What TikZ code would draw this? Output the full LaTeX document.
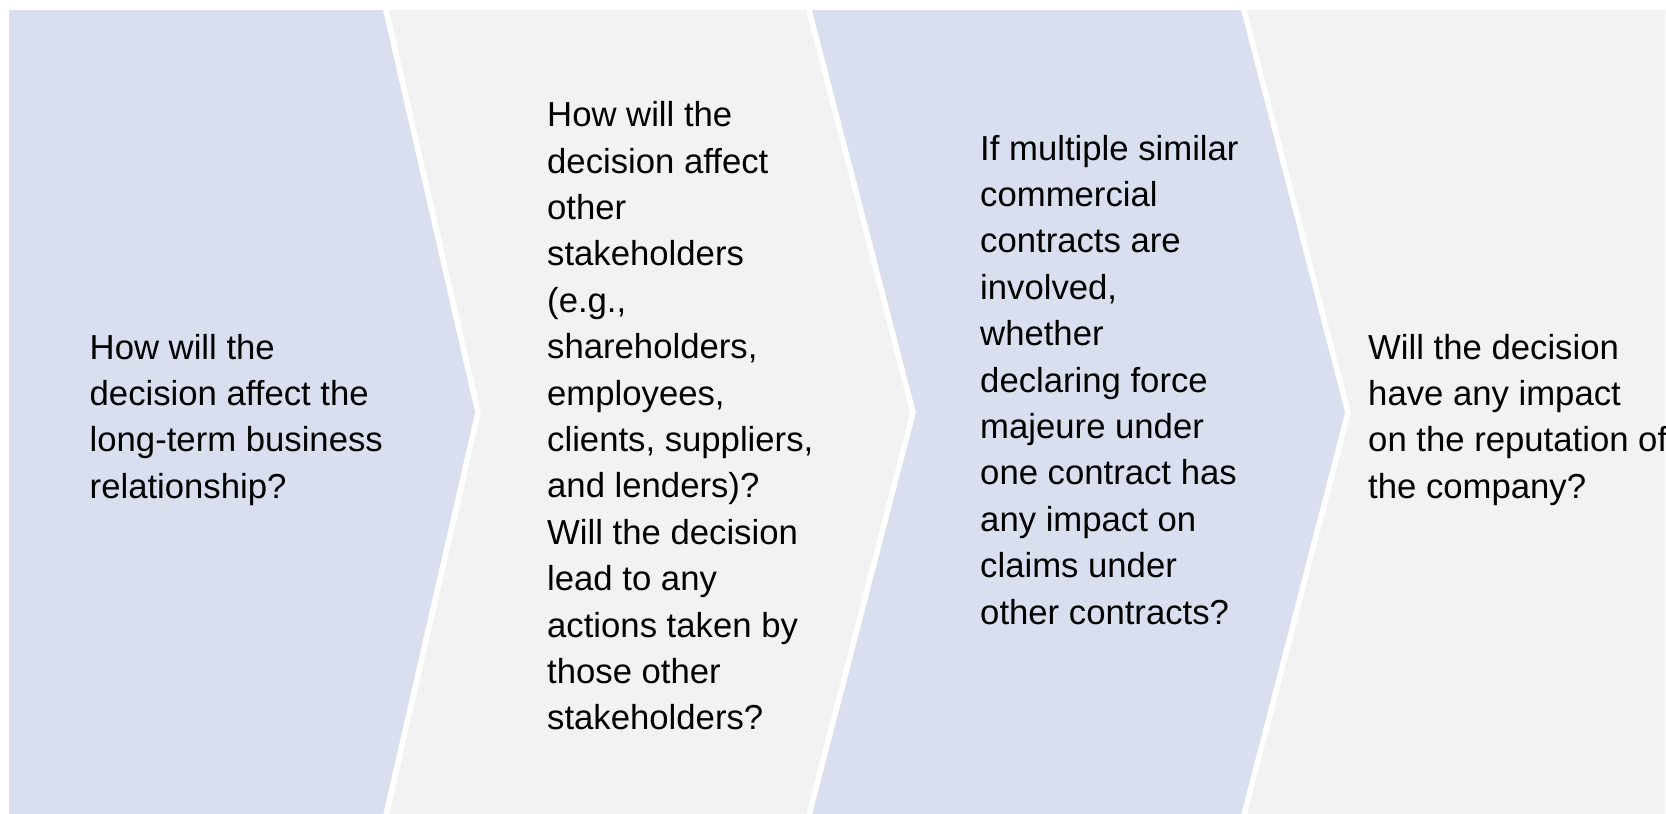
\documentclass[tikz,border=0pt]{standalone}
\usepackage{fontspec}
\setmainfont{Liberation Sans}
\definecolor{chevblue}{HTML}{D9DFEF}
\definecolor{chevgrey}{HTML}{F2F2F2}
\begin{document}
\begin{tikzpicture}[x=1pt,y=-1pt,
  panel/.style={fill=#1, draw=none},
  question/.style={anchor=north west, inner sep=0pt, align=left,
    font=\fontsize{34.7}{46.4}\selectfont}]
\useasboundingbox (0,0) rectangle (1666,814);
\fill[white] (0,0) rectangle (1666,814);
% four chevron panels, separated by thin white gaps
\path[panel=chevblue] (9,10) -- (383,10) -- (475,412.5) -- (383,815) -- (9,815) -- cycle;
\path[panel=chevgrey] (389,10) -- (806,10) -- (910,412.5) -- (806,815) -- (389,815) -- (481,412.5) -- cycle;
\path[panel=chevblue] (812,10) -- (1241,10) -- (1345,412.5) -- (1241,815) -- (812,815) -- (916,412.5) -- cycle;
\path[panel=chevgrey] (1247,10) -- (1665,10) -- (1665,815) -- (1247,815) -- (1351,412.5) -- cycle;
% question texts (first baseline minus strut height)
\node[question] (q1) at (89.5,326.5) {\strut How will the\\decision affect the\\long-term business\\relationship?};
\node[question] (q2) at (547,94) {\strut How will the\\decision affect\\other\\stakeholders\\(e.g.,\\shareholders,\\employees,\\clients, suppliers,\\and lenders)?\\Will the decision\\lead to any\\actions taken by\\those other\\stakeholders?};
\node[question] (q3) at (980,127.5) {\strut If multiple similar\\commercial\\contracts are\\involved,\\whether\\declaring force\\majeure under\\one contract has\\any impact on\\claims under\\other contracts?};
\node[question] (q4) at (1368,326.5) {\strut Will the decision\\have any impact\\on the reputation of\\the company?};
\end{tikzpicture}
\end{document}
